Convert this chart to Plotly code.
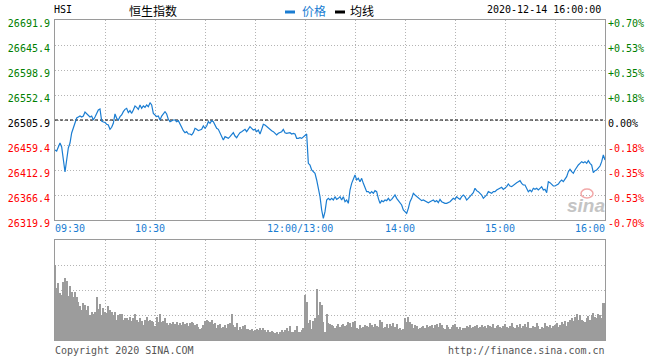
import plotly.graph_objects as go

# ---------------- data ----------------
prev_close = 26505.9
price_step = 46.5
minutes = list(range(331))  # trading minutes from 09:30 (lunch break removed)

prices = [
    26450.1, 26448.2, 26455.7, 26463.1, 26455.7, 26435.2, 26409.2, 26431.5, 26453.8, 26463.1,
    26481.7, 26491.0, 26502.2, 26509.6, 26511.5, 26513.3, 26511.5, 26513.3, 26520.8, 26517.1,
    26515.2, 26511.5, 26513.3, 26505.9, 26511.5, 26518.9, 26524.5, 26526.4, 26504.0, 26502.2,
    26501.6, 26497.8, 26496.6, 26488.5, 26492.3, 26499.7, 26517.1, 26509.0, 26505.9, 26512.1,
    26515.2, 26521.4, 26525.7, 26527.6, 26519.5, 26523.3, 26518.3, 26524.5, 26532.0, 26529.5,
    26525.7, 26533.8, 26527.6, 26532.0, 26529.5, 26533.8, 26530.7, 26538.1, 26533.8, 26518.3,
    26515.2, 26512.1, 26513.3, 26505.9, 26513.3, 26517.1, 26521.4, 26517.1, 26507.1, 26502.8,
    26504.7, 26505.9, 26505.9, 26502.8, 26504.7, 26499.7, 26492.3, 26486.1, 26482.3, 26484.2,
    26479.9, 26479.9, 26478.0, 26482.3, 26490.4, 26488.5, 26486.1, 26487.3, 26488.5, 26494.7,
    26490.4, 26494.7, 26502.8, 26499.7, 26504.7, 26502.8, 26494.7, 26490.4, 26488.5, 26481.1,
    26474.9, 26468.7, 26474.9, 26473.7, 26471.8, 26474.9, 26478.0, 26482.3, 26476.1, 26473.0,
    26478.0, 26482.3, 26484.2, 26486.1, 26488.5, 26484.2, 26488.5, 26493.5, 26490.4, 26487.3,
    26488.5, 26484.2, 26487.3, 26479.9, 26488.5, 26497.8, 26496.6, 26493.5, 26490.4, 26488.5,
    26486.1, 26484.2, 26481.1, 26478.0, 26481.1, 26482.3, 26484.2, 26488.5, 26482.3, 26481.1,
    26482.3, 26482.3, 26479.9, 26481.1, 26479.9, 26471.8, 26471.8, 26473.0, 26471.8, 26474.9,
    26476.1, 26479.9, 26425.3, 26422.2, 26412.9, 26409.8, 26406.7, 26394.3, 26378.8, 26363.3,
    26338.5, 26323.0, 26335.4, 26357.1, 26360.2, 26357.1, 26360.2, 26357.1, 26363.3, 26358.3,
    26360.2, 26363.3, 26357.1, 26363.3, 26354.0, 26357.1, 26350.9, 26375.7, 26388.1, 26397.4,
    26403.6, 26394.3, 26397.4, 26391.2, 26397.4, 26388.1, 26378.8, 26372.6, 26372.6, 26369.5,
    26372.6, 26369.5, 26374.5, 26372.6, 26360.2, 26350.9, 26355.9, 26354.0, 26357.1, 26355.9,
    26360.2, 26355.9, 26358.3, 26363.3, 26366.4, 26360.2, 26355.9, 26350.9, 26347.8, 26338.5,
    26335.4, 26332.3, 26341.6, 26354.0, 26360.2, 26369.5, 26366.4, 26363.3, 26360.2, 26357.1,
    26355.9, 26357.1, 26355.9, 26354.0, 26352.1, 26354.0, 26355.9, 26357.1, 26354.0, 26355.9,
    26352.1, 26358.3, 26354.0, 26352.1, 26350.9, 26350.9, 26352.1, 26354.0, 26357.1, 26360.2,
    26358.3, 26363.3, 26360.2, 26358.3, 26363.3, 26366.4, 26363.3, 26357.1, 26360.2, 26363.3,
    26366.4, 26370.7, 26378.8, 26374.5, 26372.6, 26369.5, 26366.4, 26360.2, 26363.3, 26366.4,
    26372.6, 26370.7, 26369.5, 26372.6, 26372.6, 26375.7, 26376.9, 26378.8, 26380.7, 26376.9,
    26378.8, 26381.9, 26386.9, 26383.1, 26381.9, 26385.0, 26386.9, 26389.3, 26391.2, 26393.1,
    26388.1, 26385.0, 26385.0, 26378.8, 26372.6, 26375.7, 26372.6, 26378.8, 26376.9, 26378.8,
    26375.7, 26378.8, 26381.9, 26375.7, 26376.9, 26370.7, 26391.2, 26389.3, 26385.0, 26383.1,
    26383.1, 26385.0, 26386.9, 26391.2, 26394.3, 26391.2, 26395.5, 26400.5, 26409.8, 26414.1,
    26409.8, 26406.7, 26412.9, 26419.1, 26422.2, 26425.3, 26428.4, 26426.5, 26428.4, 26425.3,
    26430.3, 26425.3, 26422.2, 26407.9, 26411.7, 26412.9, 26416.0, 26420.3, 26428.4, 26440.8,
    26431.5,
]

volumes = [
    75, 52.3, 56.7, 46.7, 45, 57.7, 61.7, 59, 44, 54.3,
    48.3, 43.3, 47.7, 43.3, 38.3, 34, 30, 36.7, 35, 30,
    34, 25, 28.3, 26, 28.3, 43.3, 31, 35.7, 25, 31.7,
    27.7, 26.7, 34.3, 30, 27.7, 25, 28.3, 20, 25, 26,
    25.7, 20, 21.7, 22.3, 20, 23.3, 19, 21.7, 26, 20,
    18.3, 21.7, 19, 15, 20, 23.3, 19, 20, 19, 18.3,
    14, 23.3, 17.7, 26, 17.7, 19, 21.7, 16.7, 15, 16.7,
    15.7, 17.7, 15.7, 18.3, 15, 16.7, 15, 17.7, 15.7, 16.7,
    14.3, 16.7, 17.7, 16.7, 15, 15.7, 13.3, 11, 12.3, 15,
    19, 20, 19, 17.7, 20, 15.7, 16.7, 12.3, 15, 15.7,
    11.7, 13.3, 15, 11.7, 15.7, 16.7, 26, 15, 13.3, 16.7,
    10, 13.3, 11, 14.3, 15, 10.7, 10.7, 10, 10.7, 9,
    10, 10.7, 10, 11.7, 10, 12.3, 10, 8.3, 10, 8.3,
    9.3, 7.7, 6.7, 8.3, 5.7, 8.3, 10, 8.3, 10, 12.3,
    9, 14.3, 7.7, 8.3, 10, 14.3, 7.7, 8.3, 10, 11.7,
    45, 38.3, 16.7, 20, 11, 19, 21.7, 51, 25, 38.3,
    35, 17.7, 8.3, 26, 16.7, 15.7, 15, 14.3, 11.7, 14.3,
    15.7, 13.3, 15, 15.7, 14.3, 15, 17.7, 16.7, 13.3, 18.3,
    19.3, 11.7, 10.7, 15, 11.7, 13.3, 15, 14, 13.3, 16.7,
    15, 13.3, 15.7, 14.3, 13.3, 20, 18.3, 11.7, 13.3, 15.7,
    11.7, 15.7, 14.3, 16.7, 13.3, 15.7, 11, 12.3, 10, 10.7,
    21.7, 17.7, 23.3, 17.7, 15.7, 12.3, 15, 14.3, 11, 12.3,
    13.3, 14.3, 11.7, 15, 13.3, 14.3, 15, 12.3, 15, 15.7,
    13.3, 16.7, 15, 12.3, 11, 15, 13.3, 11, 13.3, 15,
    15.7, 13.3, 11, 13.3, 10, 12.3, 11.7, 14.3, 13.3, 15,
    12.3, 13.3, 14.3, 15, 12.3, 13.3, 15, 13.3, 14.3, 12.3,
    15, 14.3, 13.3, 15.7, 12.3, 14.3, 15, 13.3, 12.3, 14.3,
    15.7, 13.3, 12.3, 14.3, 16.7, 13.3, 11.7, 15, 13.3, 15.7,
    12.3, 14.3, 15.7, 13.3, 17.7, 12.3, 11.7, 14.3, 13.3, 16.7,
    14.3, 11, 13.3, 12.3, 16.7, 14.3, 13.3, 15, 12.3, 14.3,
    15, 16.7, 13.3, 15, 17.7, 15.7, 19, 14.3, 17.7, 20,
    21.7, 19, 23.3, 25.7, 20, 25, 20, 19, 17.7, 21.7,
    24.3, 20, 25, 27.3, 23.3, 22.3, 25.7, 25, 21.7, 36.7,
    36.7,
]

time_tick_minutes = [0, 60, 150, 210, 270, 330]
time_tick_labels = ["09:30", "10:30", "12:00/13:00", "14:00", "15:00", "16:00"]
grid_minutes = list(range(0, 331, 30))
volume_grid = [25, 50, 75]
volume_max = 100

title_code = "HSI"
title_name = "恒生指数"
legend_labels = ["价格", "均线"]
timestamp = "2020-12-14 16:00:00"
copyright_text = "Copyright 2020 SINA.COM"
url_text = "http://finance.sina.com.cn"

# ---------------- styling ----------------
MONO = "DejaVu Sans Mono"
CJK = "Noto Sans CJK SC"
BLUE = "#1a7dd2"
GREEN = "#008000"
RED = "#ff0000"
GRID = "#b4b4b4"
BORDER = "#9a9a9a"

ks = list(range(-4, 5))
price_ticks = [prev_close + k * price_step for k in ks]
pct_ticks = [k * price_step / prev_close * 100 for k in ks]


def col(k):
    return GREEN if k > 0 else (RED if k < 0 else "#000000")


price_text = [f'<span style="color:{col(k)}">{v:.1f}</span>' for k, v in zip(ks, price_ticks)]
pct_text = []
for k, v in zip(ks, pct_ticks):
    s = "0.00%" if k == 0 else f"{v:+.2f}%"
    pct_text.append(f'<span style="color:{col(k)}">{s}</span>')

y_lo, y_hi = price_ticks[0], price_ticks[-1]
p_lo, p_hi = pct_ticks[0], pct_ticks[-1]

fig = go.Figure()

fig.add_trace(go.Bar(
    x=minutes, y=volumes, xaxis="x2", yaxis="y3",
    marker=dict(color="#9c9c9c", line=dict(width=0)), width=0.6,
    showlegend=False, hoverinfo="skip",
))
fig.add_trace(go.Scatter(
    x=[minutes[0], minutes[-1]], y=[prev_close, prev_close], xaxis="x", yaxis="y",
    mode="lines", line=dict(color="#000000", width=1, dash="3px,2px"),
    showlegend=False, hoverinfo="skip",
))
fig.add_trace(go.Scatter(
    x=minutes, y=prices, xaxis="x", yaxis="y",
    mode="lines", line=dict(color=BLUE, width=1.2),
    showlegend=False,
))
# invisible trace to carry the percent axis
fig.add_trace(go.Scatter(
    x=[minutes[0]], y=[0], xaxis="x", yaxis="y2", mode="markers",
    marker=dict(opacity=0), showlegend=False, hoverinfo="skip",
))

axis_common = dict(showgrid=True, gridcolor=GRID, griddash="1px,2px", gridwidth=1,
                   showline=True, linecolor=BORDER, linewidth=1, mirror=True, zeroline=False,
                   automargin=False)

fig.update_layout(
    width=660, height=360,
    margin=dict(l=55, r=55, t=20, b=20, autoexpand=False),
    paper_bgcolor="white", plot_bgcolor="white",
    bargap=0,
    xaxis=dict(domain=[0, 1], anchor="y", range=[minutes[0], minutes[-1]],
               tickvals=grid_minutes, showticklabels=False, ticks="", **axis_common),
    yaxis=dict(domain=[0.375, 1], anchor="x", range=[y_lo, y_hi],
               tickvals=price_ticks, ticktext=price_text, ticks="",
               tickfont=dict(family=MONO, size=10), ticklabelshift=3,
               ticklabelstandoff=2, **axis_common),
    yaxis2=dict(overlaying="y", side="right", anchor="x", range=[p_lo, p_hi],
                tickvals=pct_ticks, ticktext=pct_text, ticks="", showgrid=False,
                zeroline=False, showline=False, automargin=False,
                tickfont=dict(family=MONO, size=10), ticklabelshift=3,
                ticklabelstandoff=2),
    xaxis2=dict(domain=[0, 1], anchor="y3", range=[minutes[0], minutes[-1]],
                tickvals=grid_minutes, showticklabels=False, ticks="", **axis_common),
    yaxis3=dict(domain=[0, 0.3125], anchor="x2", range=[0, volume_max],
                tickvals=volume_grid, showticklabels=False, ticks="", **axis_common),
    showlegend=False,
)

ann = []
# time labels under the price panel
for i, (m, lab) in enumerate(zip(time_tick_minutes, time_tick_labels)):
    if i == 0:
        xa, xs = "left", -2
    elif i == len(time_tick_minutes) - 1:
        xa, xs = "right", 2
    else:
        xa, xs = "center", -5.5
    ann.append(dict(x=m, xref="x", y=0.375, yref="paper", yanchor="top", yshift=-1,
                    xanchor=xa, xshift=xs, text=lab, showarrow=False,
                    font=dict(family=MONO, size=10, color=BLUE)))

def py(pix):  # pixel row -> paper y
    return (340 - pix) / 320

def px(pix):  # pixel col -> paper x
    return (pix - 55) / 550

ann += [
    dict(x=px(52), y=py(9.5), xref="paper", yref="paper", xanchor="left", yanchor="middle",
         text=title_code, showarrow=False, font=dict(family=MONO, size=10, color="#000")),
    dict(x=px(127), y=py(10), xref="paper", yref="paper", xanchor="left", yanchor="middle",
         text=title_name, showarrow=False, font=dict(family=CJK, size=12, color="#000")),
    dict(x=px(300), y=py(10), xref="paper", yref="paper", xanchor="left", yanchor="middle",
         text=legend_labels[0], showarrow=False, font=dict(family=CJK, size=12, color=BLUE)),
    dict(x=px(348), y=py(10), xref="paper", yref="paper", xanchor="left", yanchor="middle",
         text=legend_labels[1], showarrow=False, font=dict(family=CJK, size=12, color="#000")),
    dict(x=px(603), y=py(9.5), xref="paper", yref="paper", xanchor="right", yanchor="middle",
         text=timestamp, showarrow=False, font=dict(family=MONO, size=10, color="#000")),
    dict(x=px(53), y=py(350), xref="paper", yref="paper", xanchor="left", yanchor="middle",
         text=copyright_text, showarrow=False, font=dict(family=MONO, size=10, color="#555")),
    dict(x=px(607), y=py(350), xref="paper", yref="paper", xanchor="right", yanchor="middle",
         text=url_text, showarrow=False, font=dict(family=MONO, size=10, color="#555")),
    dict(x=px(586), y=py(205), xref="paper", yref="paper", xanchor="center", yanchor="middle",
         text="<b><i>sina</i></b>", showarrow=False,
         font=dict(family="Liberation Sans", size=19, color="#c4c4c4")),
]
fig.update_layout(annotations=ann)

shapes = [
    dict(type="rect", xref="paper", yref="paper", x0=px(285), x1=px(295), y0=py(13.5), y1=py(10.5),
         fillcolor=BLUE, line=dict(width=0)),
    dict(type="rect", xref="paper", yref="paper", x0=px(335), x1=px(345), y0=py(13.5), y1=py(10.5),
         fillcolor="#000", line=dict(width=0)),
    dict(type="circle", xref="paper", yref="paper", x0=px(581), x1=px(593), y0=py(198), y1=py(189),
         fillcolor="rgba(0,0,0,0)", line=dict(color="#f2a8a8", width=1.5)),
]
fig.update_layout(shapes=shapes)

fig.write_html("out.html", config={"displayModeBar": False},
               post_script="document.body.style.margin='0';")
